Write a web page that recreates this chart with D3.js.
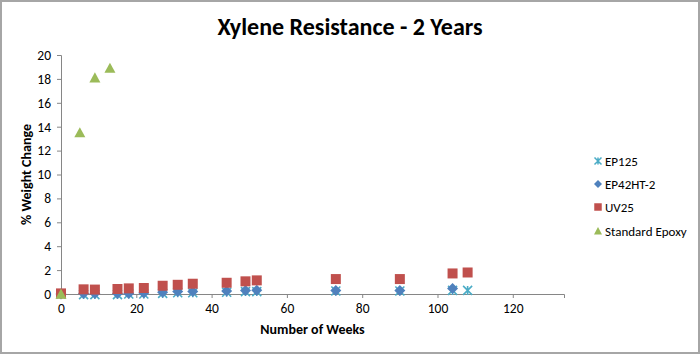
<!DOCTYPE html>
<html><head><meta charset="utf-8">
<script src="https://cdn.jsdelivr.net/npm/d3@7"></script>
<style>body{margin:0;background:#fff;} svg{display:block;font-family:Carlito,Calibri,"Liberation Sans",Arial,sans-serif;}</style>
</head><body><svg id="c" width="700" height="354"></svg>
<script>
const title = "Xylene Resistance - 2 Years";
const xLabel = "Number of Weeks";
const yLabel = "% Weight Change";
const xTicks = [0,20,40,60,80,100,120];
const yTicks = [0,2,4,6,8,10,12,14,16,18,20];
const seriesNames = ["EP125","EP42HT-2","UV25","Standard Epoxy"];
const colors = ["#4BACC6","#4F81BD","#C0504D","#9BBB59"];
const ep125X = [0,6,9,15,18,22,27,31,35,44,49,52,73,90,104,108];
const ep125Y = [0,-0.05,-0.05,-0.05,0,0,0.05,0.1,0.1,0.15,0.2,0.2,0.25,0.25,0.3,0.3];
const ep42X = [0,6,9,15,18,22,27,31,35,44,49,52,73,90,104];
const ep42Y = [0,0.05,0.05,0.05,0.05,0.08,0.14,0.2,0.2,0.26,0.3,0.32,0.3,0.3,0.47];
const uv25X = [0,6,9,15,18,22,27,31,35,44,49,52,73,90,104,108];
const uv25Y = [0.05,0.39,0.37,0.42,0.47,0.5,0.69,0.77,0.86,0.94,1.06,1.14,1.25,1.25,1.72,1.8];
const stdX = [0,5,9,13];
const stdY = [0,13.5,18.1,18.9];

const svg = d3.select("#c");
svg.append("rect").attr("x",1).attr("y",1).attr("width",698).attr("height",352)
  .attr("fill","#fff").attr("stroke","#a6a6a6").attr("stroke-width",2);

const x = d3.scaleLinear().domain([0,133.6]).range([61,564]);
const y = d3.scaleLinear().domain([0,20]).range([294,55]);

svg.append("text").attr("x",350).attr("y",35).attr("text-anchor","middle")
  .attr("font-size",24).attr("font-weight","bold").text(title);

const ax = svg.append("g").attr("transform","translate(0,294)")
  .call(d3.axisBottom(x).tickValues(xTicks).tickSize(4).tickPadding(5));
const ay = svg.append("g").attr("transform","translate(61,0)")
  .call(d3.axisLeft(y).tickValues(yTicks).tickSize(4).tickPadding(6));
[ax,ay].forEach(a=>{
  a.select(".domain").attr("stroke","#868686");
  a.selectAll(".tick line").attr("stroke","#868686");
  a.selectAll(".tick text").attr("font-size",13.5).attr("fill","#000").attr("font-family","Carlito,Calibri,'Liberation Sans',sans-serif");
});

svg.append("text").attr("x",312.5).attr("y",334).attr("text-anchor","middle")
  .attr("font-size",14).attr("font-weight","bold").text(xLabel);
svg.append("text").attr("transform","translate(31,174.5) rotate(-90)").attr("text-anchor","middle")
  .attr("font-size",14).attr("font-weight","bold").text(yLabel);

function starPath(s){const r=s/2;return `M${-r},${-r}L${r},${r}M${-r},${r}L${r},${-r}M0,${-r}L0,${r}`;}
function diamondPath(s){const r=s/2;return `M0,${-r}L${r},0L0,${r}L${-r},0Z`;}
function squarePath(s){const r=s/2;return `M${-r},${-r}H${r}V${r}H${-r}Z`;}
function trianglePath(s){const r=s/2;return `M0,${-r}L${r},${r*0.85}L${-r},${r*0.85}Z`;}
const shapes = [null, diamondPath, squarePath, trianglePath];
const sizes = [9, 11, 10, 11];
function drawSeries(xs,ys,i){
  const data = xs.map((v,k)=>[v,ys[k]]);
  const g = svg.append("g");
  const sel = g.selectAll("path").data(data).join("path")
      .attr("transform",d=>`translate(${x(d[0])},${y(d[1])})`);
  if(i===0) sel.attr("d",starPath(sizes[0])).attr("stroke",colors[0]).attr("stroke-width",1.6).attr("fill","none");
  else sel.attr("d",shapes[i](sizes[i])).attr("fill",colors[i]);
}
drawSeries(ep125X,ep125Y,0);
drawSeries(ep42X,ep42Y,1);
drawSeries(uv25X,uv25Y,2);
drawSeries(stdX,stdY,3);

const legY = [161,184,207,231];
seriesNames.forEach((n,i)=>{
  const g = svg.append("g").attr("transform",`translate(598,${legY[i]})`);
  if(i===0) g.append("path").attr("d",starPath(7)).attr("stroke",colors[0]).attr("stroke-width",1.5).attr("fill","none");
  else g.append("path").attr("d",shapes[i](i===2?7.5:8)).attr("fill",colors[i]);
  svg.append("text").attr("x",605).attr("y",legY[i]+4.5).attr("font-size",13).text(n);
});
</script></body></html>
